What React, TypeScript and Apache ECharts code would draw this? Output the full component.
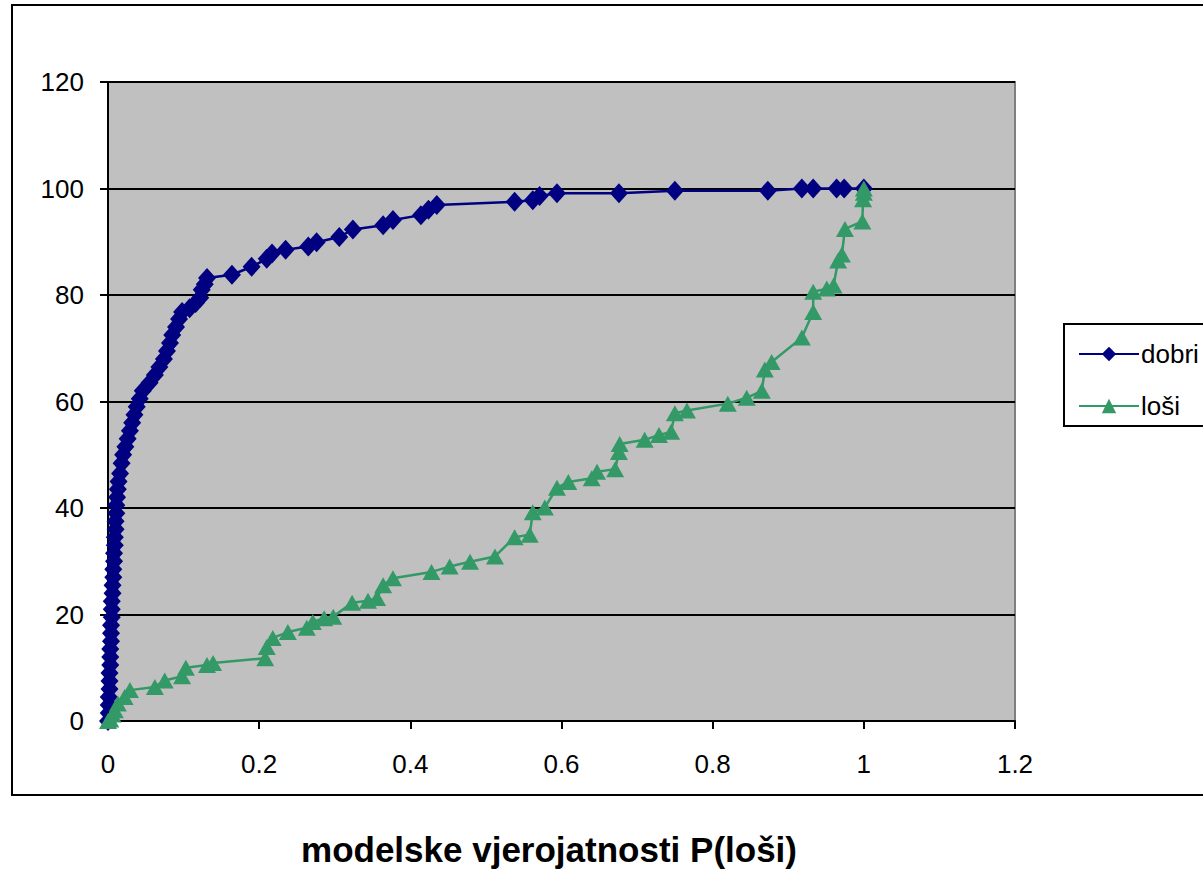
import React, { useEffect, useRef } from "react";
import * as echarts from "echarts";

const dobriX = [0, 0.001, 0.001, 0.001, 0.002, 0.002, 0.002, 0.003, 0.003, 0.003, 0.004, 0.004, 0.004, 0.005, 0.005, 0.005, 0.006, 0.006, 0.007, 0.007, 0.008, 0.008, 0.009, 0.009, 0.01, 0.01, 0.011, 0.011, 0.012, 0.013, 0.014, 0.016, 0.018, 0.02, 0.023, 0.026, 0.029, 0.032, 0.035, 0.038, 0.042, 0.046, 0.055, 0.062, 0.068, 0.074, 0.078, 0.082, 0.085, 0.09, 0.094, 0.098, 0.108, 0.116, 0.122, 0.124, 0.128, 0.131, 0.164, 0.19, 0.21, 0.217, 0.235, 0.265, 0.276, 0.306, 0.324, 0.364, 0.377, 0.414, 0.424, 0.435, 0.538, 0.562, 0.571, 0.594, 0.676, 0.75, 0.873, 0.918, 0.933, 0.964, 0.974, 1.0];
const dobriY = [0, 1.5, 3, 4.5, 6, 7.5, 9, 10.5, 12, 13.5, 15, 16.5, 18, 19.5, 21, 22.5, 24, 25.5, 27, 28.5, 30, 31.5, 33, 34.5, 36, 37.5, 39, 40.5, 42, 43.5, 45, 46.5, 48.4, 50, 51.5, 53, 54.5, 56, 57.5, 59, 60.5, 62, 63.5, 65, 66.5, 68, 69.5, 71, 72.5, 74, 75.5, 76.8, 77.5, 78.5, 79.5, 81, 82, 83.2, 83.8, 85.3, 86.8, 87.8, 88.5, 89.1, 89.9, 90.9, 92.3, 93.1, 94.1, 95.0, 96.0, 96.9, 97.5, 97.8, 98.6, 99.1, 99.1, 99.6, 99.6, 100, 100, 100, 100, 100];

const losiX = [0, 0.003, 0.006, 0.009, 0.013, 0.022, 0.029, 0.062, 0.075, 0.098, 0.103, 0.131, 0.139, 0.208, 0.21, 0.218, 0.238, 0.263, 0.271, 0.286, 0.298, 0.323, 0.344, 0.356, 0.364, 0.377, 0.428, 0.452, 0.479, 0.512, 0.538, 0.558, 0.562, 0.578, 0.594, 0.609, 0.64, 0.647, 0.671, 0.676, 0.677, 0.71, 0.729, 0.745, 0.75, 0.766, 0.82, 0.845, 0.865, 0.869, 0.878, 0.918, 0.933, 0.933, 0.951, 0.96, 0.966, 0.971, 0.975, 0.998, 0.999, 1.0, 1.0];
const losiY = [0, 0.3, 1.2, 2, 3.3, 4.5, 5.8, 6.4, 7.6, 8.4, 10, 10.5, 10.9, 11.8, 13.9, 15.6, 16.7, 17.5, 18.6, 19.3, 19.6, 22.2, 22.6, 23.1, 25.5, 26.8, 28, 29, 29.9, 30.9, 34.5, 35, 39.2, 40.1, 43.8, 44.9, 45.6, 46.8, 47.3, 50.5, 52, 52.8, 53.7, 54.3, 57.8, 58.3, 59.6, 60.7, 62, 66, 67.4, 72, 76.8, 80.6, 81.2, 81.8, 86.5, 87.6, 92.4, 93.8, 98, 99.2, 100];

const seriesNames = ["dobri", "loši"];
const xTitle = "modelske vjerojatnosti P(loši)";

const FONT = "'Liberation Sans', Arial, sans-serif";

export default function App() {
  const ref = useRef<HTMLDivElement>(null);
  useEffect(() => {
    if (!ref.current) return;
    const chart = echarts.init(ref.current, undefined, { renderer: "svg" });
    const pair = (xs: number[], ys: number[]) => xs.map((x, i) => [x, ys[i]]);
    chart.setOption({
      animation: false,
      backgroundColor: "#ffffff",
      textStyle: { fontFamily: FONT },
      grid: { left: 108, top: 82, right: 188, bottom: 149, show: true, backgroundColor: "#c0c0c0", borderColor: "#808080", borderWidth: 2 },
      graphic: [
        { type: "rect", shape: { x: 12, y: 5, width: 1220, height: 790 }, style: { fill: "none", stroke: "#000", lineWidth: 2 }, z: 100 },
        { type: "rect", shape: { x: 1064, y: 324, width: 200, height: 102 }, style: { fill: "#fff", stroke: "#000", lineWidth: 2 }, z: -1 },
        { type: "text", x: 549, y: 849, style: { text: xTitle, textAlign: "center", textVerticalAlign: "middle", font: "bold 35px " + FONT, fill: "#000" } },
      ],
      legend: {
        orient: "vertical",
        left: 1073,
        top: 336,
        itemWidth: 60,
        itemHeight: 18,
        itemGap: 26,
        data: seriesNames,
        textStyle: { fontFamily: FONT, fontSize: 26, color: "#000", padding: [0, 0, 0, -3] },
      },
      xAxis: {
        type: "value",
        min: 0,
        max: 1.2,
        interval: 0.2,
        axisLine: { show: true, onZero: false, lineStyle: { color: "#000", width: 2 } },
        axisTick: { show: true, length: 8, lineStyle: { color: "#000", width: 2 } },
        axisLabel: { fontFamily: FONT, fontSize: 26, color: "#000", margin: 30, formatter: (v: number) => String(Math.round(v * 10) / 10) },
        splitLine: { show: false },
      },
      yAxis: {
        type: "value",
        min: 0,
        max: 120,
        interval: 20,
        axisLine: { show: true, lineStyle: { color: "#000", width: 2 } },
        axisTick: { show: true, length: 8, lineStyle: { color: "#000", width: 2 } },
        axisLabel: { fontFamily: FONT, fontSize: 26, color: "#000", margin: 24 },
        splitLine: { show: true, lineStyle: { color: "#000", width: 2 } },
      },
      series: [
        {
          name: seriesNames[0],
          type: "line",
          data: pair(dobriX, dobriY),
          symbol: "diamond",
          symbolSize: [18, 20],
          itemStyle: { color: "#000080" },
          lineStyle: { color: "#000080", width: 2.5 },
        },
        {
          name: seriesNames[1],
          type: "line",
          data: pair(losiX, losiY),
          symbol: "triangle",
          symbolSize: [18, 16],
          itemStyle: { color: "#339966" },
          lineStyle: { color: "#339966", width: 2.5 },
        },
      ],
    });
    return () => chart.dispose();
  }, []);
  return <div ref={ref} style={{ width: 1203, height: 870, position: "absolute", left: 0, top: 0 }} />;
}
